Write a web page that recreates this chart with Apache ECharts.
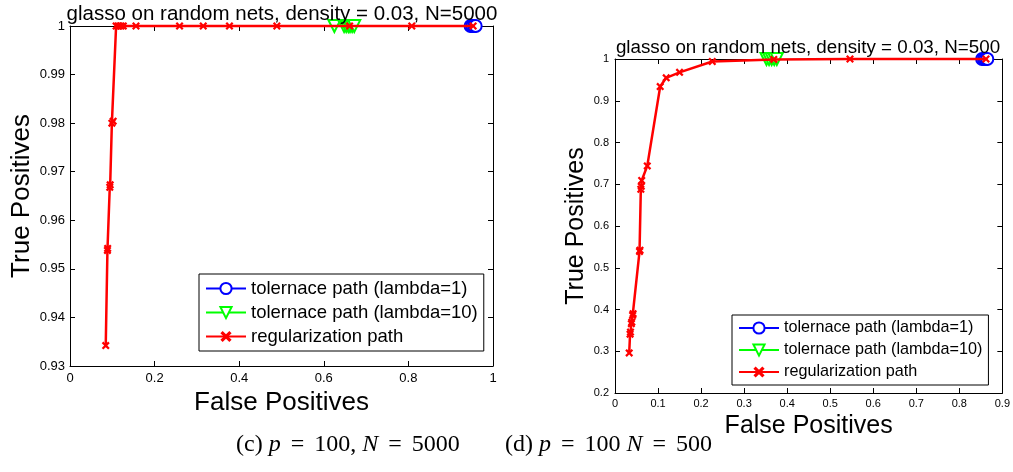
<!DOCTYPE html>
<html><head><meta charset="utf-8">
<script src="https://cdn.jsdelivr.net/npm/echarts@6/dist/echarts.min.js"></script>
<style>html,body{margin:0;padding:0;background:#fff}#c{width:1013px;height:472px}</style>
</head><body><div id="c"></div>
<script>
// ---------- data ----------
const seriesNames = ['tolernace path (lambda=1)', 'tolernace path (lambda=10)', 'regularization path'];
const titleLeft = 'glasso on random nets, density = 0.03, N=5000';
const titleRight = 'glasso on random nets, density = 0.03, N=500';
const xTicksLeft = [0, 0.2, 0.4, 0.6, 0.8, 1];
const yTicksLeft = [0.93, 0.94, 0.95, 0.96, 0.97, 0.98, 0.99, 1];
const xTicksRight = [0, 0.1, 0.2, 0.3, 0.4, 0.5, 0.6, 0.7, 0.8, 0.9];
const yTicksRight = [0.2, 0.3, 0.4, 0.5, 0.6, 0.7, 0.8, 0.9, 1];

// left panel (N=5000)
const regLeftFP = [0.0845, 0.0885, 0.089, 0.094, 0.095, 0.099, 0.102, 0.109, 0.113, 0.117, 0.121, 0.126, 0.156, 0.259, 0.315, 0.377, 0.489, 0.661, 0.808, 0.953];
const regLeftTP = [0.9342, 0.9538, 0.9542, 0.9668, 0.9673, 0.9800, 0.9804, 1, 1, 1, 1, 1, 1, 1, 1, 1, 1, 1, 1, 1];
const tol1LeftFP = [0.947, 0.951, 0.955, 0.959];
const tol1LeftTP = [1, 1, 1, 1];
const tol10LeftFP = [0.625, 0.648, 0.653, 0.658, 0.662, 0.667, 0.672];
const tol10LeftTP = [1, 1, 1, 1, 1, 1, 1];

// right panel (N=500)
const regRightFP = [0.033, 0.035, 0.036, 0.038, 0.039, 0.041, 0.042, 0.057, 0.058, 0.060, 0.061, 0.062, 0.075, 0.105, 0.119, 0.150, 0.226, 0.369, 0.546, 0.862];
const regRightTP = [0.296, 0.341, 0.346, 0.366, 0.370, 0.386, 0.390, 0.539, 0.542, 0.688, 0.695, 0.709, 0.744, 0.934, 0.955, 0.968, 0.994, 0.999, 1, 1];
const tol1RightFP = [0.853, 0.857, 0.861, 0.865];
const tol1RightTP = [1, 1, 1, 1];
const tol10RightFP = [0.352, 0.358, 0.364, 0.370, 0.376];
const tol10RightTP = [1, 1, 1, 1, 1];

// caption pieces: [text, style]  (r = roman, i = italic math, e = math relation)
const captionLeft = [['(c) ', 'r'], ['p', 'i'], ['=', 'e'], ['100, ', 'r'], ['N', 'i'], ['=', 'e'], ['5000', 'r']];
const captionRight = [['(d) ', 'r'], ['p', 'i'], ['=', 'e'], ['100 ', 'r'], ['N', 'i'], ['=', 'e'], ['500', 'r']];

// ---------- styling / building ----------
const FONT = 'Liberation Sans, Arial, Helvetica, sans-serif';
const SERIF = 'Liberation Serif, DejaVu Serif, serif';
const XMARK = 'path://M0,2L2,0L5,3L8,0L10,2L7,5L10,8L8,10L5,7L2,10L0,8L3,5Z';
const zip = (a, b) => a.map((v, i) => [v, b[i]]);

function axisPair(kind, grid, ticks, opts) {
  const min = ticks[0], max = ticks[ticks.length - 1];
  const interval = +(ticks[1] - ticks[0]).toFixed(6);
  const base = {
    gridIndex: grid, type: 'value', min, max, interval,
    axisLine: { show: true, onZero: false, lineStyle: { color: '#000', width: 1 } },
    axisTick: { show: true, inside: true, length: 5, lineStyle: { color: '#000' } },
    splitLine: { show: false }
  };
  const main = Object.assign({}, base, {
    position: kind === 'x' ? 'bottom' : 'left',
    axisLabel: { show: true, color: '#000', fontFamily: FONT, fontSize: opts.labelSize, margin: opts.labelMargin,
      formatter: v => String(+v.toFixed(4)) },
    name: opts.name, nameLocation: 'middle', nameGap: opts.nameGap,
    nameTextStyle: { color: '#000', fontFamily: FONT, fontSize: opts.nameSize }
  });
  const mirror = Object.assign({}, base, {
    position: kind === 'x' ? 'top' : 'right',
    axisLabel: { show: false }
  });
  return [main, mirror];
}

function panelSeries(axisBase, d) {
  return [
    { name: seriesNames[0], type: 'line', xAxisIndex: axisBase, yAxisIndex: axisBase, data: zip(d.t1x, d.t1y),
      symbol: 'emptyCircle', symbolSize: 12, clip: false, z: 3,
      lineStyle: { color: '#0000ff', width: 1 }, itemStyle: { color: '#0000ff', borderColor: '#0000ff', borderWidth: 1.5 } },
    { name: seriesNames[1], type: 'line', xAxisIndex: axisBase, yAxisIndex: axisBase, data: zip(d.t10x, d.t10y),
      symbol: 'emptyTriangle', symbolRotate: 180, symbolSize: 12, clip: false, z: 4,
      lineStyle: { color: '#00ff00', width: 1 }, itemStyle: { color: '#00ff00', borderColor: '#00ff00', borderWidth: 1.5 } },
    { name: seriesNames[2], type: 'line', xAxisIndex: axisBase, yAxisIndex: axisBase, data: zip(d.rx, d.ry),
      symbol: XMARK, symbolSize: 8, clip: false, z: 5,
      lineStyle: { color: '#ff0000', width: 2.5 }, itemStyle: { color: '#ff0000' } }
  ];
}

const xL = axisPair('x', 0, xTicksLeft, { name: 'False Positives', nameGap: 22, nameSize: 26, labelSize: 13, labelMargin: 6 });
const yL = axisPair('y', 0, yTicksLeft, { name: 'True Positives', nameGap: 35, nameSize: 26, labelSize: 13, labelMargin: 5 });
const xR = axisPair('x', 1, xTicksRight, { name: 'False Positives', nameGap: 17, nameSize: 25, labelSize: 11, labelMargin: 5 });
const yR = axisPair('y', 1, yTicksRight, { name: 'True Positives', nameGap: 26, nameSize: 25, labelSize: 11, labelMargin: 6 });

function legendFor(left, top, size, gap) {
  return {
    orient: 'vertical', left, top,
    backgroundColor: '#fff', borderColor: '#000', borderWidth: 1, borderRadius: 0,
    padding: [5, 6, 5, 6], itemGap: gap, itemWidth: 40, itemHeight: 14,
    textStyle: { color: '#000', fontFamily: FONT, fontSize: size },
    data: seriesNames, selectedMode: false
  };
}

function captionText(parts, cx) {
  return {
    type: 'text', left: cx, top: 433,
    style: {
      text: parts.map(p => '{' + p[1] + '|' + p[0] + '}').join(''),
      rich: {
        r: { fontFamily: SERIF, fontSize: 24, fill: '#000' },
        i: { fontFamily: SERIF, fontSize: 24, fontStyle: 'italic', fill: '#000' },
        e: { fontFamily: SERIF, fontSize: 24, fill: '#000', padding: [0, 10, 0, 10] }
      }
    }
  };
}

const chart = echarts.init(document.getElementById('c'), null, { renderer: 'canvas' });
chart.setOption({
  animation: false,
  backgroundColor: '#fff',
  title: [
    { text: titleLeft, left: 277, top: -1, textAlign: 'center', textStyle: { fontFamily: FONT, fontSize: 20.5, fontWeight: 'normal', color: '#000' } },
    { text: titleRight, left: 803, top: 33, textAlign: 'center', textStyle: { fontFamily: FONT, fontSize: 18.8, fontWeight: 'normal', color: '#000' } }
  ],
  grid: [
    { left: 70, top: 26, width: 423, height: 340, containLabel: false },
    { left: 615, top: 59, width: 389, height: 334, containLabel: false }
  ],
  xAxis: [xL[0], xL[1], xR[0], xR[1]],
  yAxis: [yL[0], yL[1], yR[0], yR[1]],
  legend: [legendFor(199, 274, 18.5, 5), legendFor(732, 315, 16.2, 6)],
  series: [
    ...panelSeries(0, { t1x: tol1LeftFP, t1y: tol1LeftTP, t10x: tol10LeftFP, t10y: tol10LeftTP, rx: regLeftFP, ry: regLeftTP }),
    ...panelSeries(2, { t1x: tol1RightFP, t1y: tol1RightTP, t10x: tol10RightFP, t10y: tol10RightTP, rx: regRightFP, ry: regRightTP })
  ],
  graphic: [captionText(captionLeft, 236), captionText(captionRight, 505)]
});
</script></body></html>
